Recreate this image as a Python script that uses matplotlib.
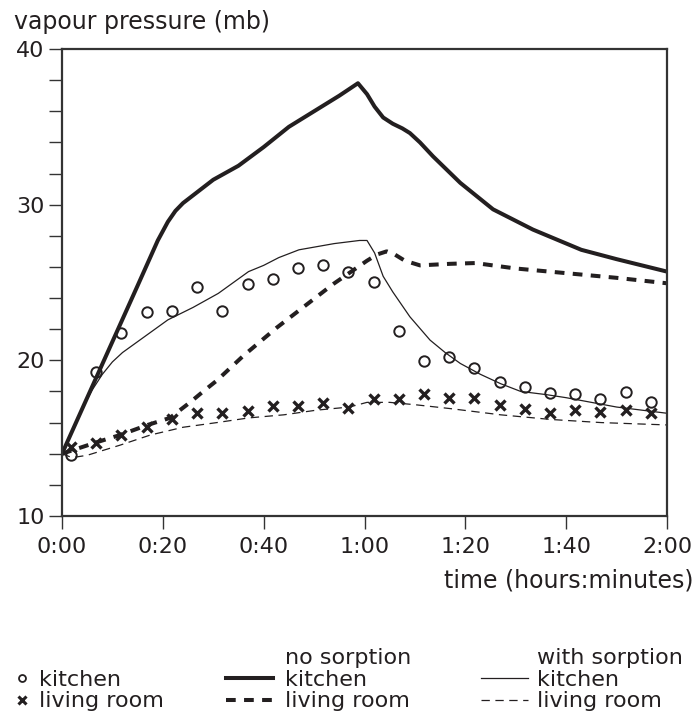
import matplotlib
matplotlib.use("Agg")
import matplotlib.pyplot as plt
from matplotlib.lines import Line2D
from matplotlib.ticker import MultipleLocator, FuncFormatter

plt.rcParams['font.family'] = ['DejaVu Sans']
plt.rcParams['lines.scale_dashes'] = False

INK = '#231f20'

# ---- data (time in minutes, vapour pressure in mb) ----
kit_nosorp_t = [0, 5, 10, 15, 19, 21, 22.5, 24, 26, 28, 30, 35, 40, 45, 50, 55, 58.7,
                60.5, 62, 63.7, 65.6, 67.5, 69, 71, 73.6, 79, 85.5, 93.4, 103, 110, 120]
kit_nosorp_v = [14.0, 17.6, 21.2, 24.8, 27.7, 28.9, 29.6, 30.1, 30.6, 31.1, 31.6, 32.5, 33.7, 35.0, 36.0, 37.0, 37.8,
                37.1, 36.3, 35.6, 35.2, 34.9, 34.6, 34.0, 33.1, 31.4, 29.7, 28.4, 27.1, 26.5, 25.7]

liv_nosorp_t = [0, 7, 11.5, 17, 21.4, 25.4, 28, 30.7, 36, 42.6, 47.8, 53.8, 60.5, 62.5, 64.4,
                66, 68, 71, 77, 82, 90, 100, 110, 120]
liv_nosorp_v = [14.0, 14.75, 15.2, 15.85, 16.3, 17.3, 18.0, 18.7, 20.3, 22.1, 23.4, 24.9, 26.4, 26.8, 27.0,
                26.8, 26.4, 26.1, 26.2, 26.25, 25.9, 25.6, 25.3, 24.95]

kit_sorp_t = [0, 2, 4, 6, 8, 10, 12, 15, 18, 21, 26, 31, 34, 37, 40, 43, 47, 54, 59, 60.5,
              62, 63.7, 65.6, 69, 73, 76, 79, 83, 87, 91, 96, 100, 110, 120]
kit_sorp_v = [14.0, 15.5, 16.9, 18.1, 19.1, 19.9, 20.5, 21.2, 21.9, 22.6, 23.4, 24.3, 25.0, 25.7, 26.1, 26.6, 27.1, 27.5, 27.7, 27.7,
              26.9, 25.4, 24.4, 22.8, 21.3, 20.5, 19.8, 19.1, 18.5, 18.0, 17.8, 17.6, 17.0, 16.6]

liv_sorp_t = [0, 2, 5, 11.5, 17.5, 24, 30.7, 37, 44, 50.5, 57, 60.5, 65, 70, 77, 87, 97, 107, 120]
liv_sorp_v = [14.0, 13.75, 13.9, 14.55, 15.2, 15.7, 16.0, 16.3, 16.5, 16.8, 17.0, 17.3, 17.3, 17.15,
              16.9, 16.5, 16.2, 16.0, 15.85]

meas_t = [1.8, 6.8, 11.8, 16.8, 21.8, 26.8, 31.8, 36.8, 41.8, 46.8, 51.8, 56.8,
          61.8, 66.8, 71.8, 76.8, 81.8, 86.8, 91.8, 96.8, 101.8, 106.8, 111.8, 116.8]
kit_meas_v = [13.9, 19.27, 21.74, 23.08, 23.17, 24.69, 23.19, 24.9, 25.22, 25.95, 26.12, 25.7,
              25.05, 21.88, 19.96, 20.19, 19.48, 18.63, 18.27, 17.92, 17.82, 17.5, 17.95, 17.34]
liv_meas_v = [14.45, 14.71, 15.2, 15.74, 16.21, 16.6, 16.6, 16.77, 17.07, 17.07, 17.24, 16.96,
              17.52, 17.52, 17.84, 17.6, 17.56, 17.13, 16.85, 16.6, 16.81, 16.7, 16.81, 16.64]

x_ticks = [0, 20, 40, 60, 80, 100, 120]
y_ticks = [10, 20, 30, 40]

FS = 16
FS_LAB = 17

fig = plt.figure(figsize=(6.96, 7.13), dpi=100)
ax = fig.add_axes([62/696, 1-516/713, 605/696, 467/713])

thick_lw = 2.9
thin_lw = 0.9
ax.plot(kit_nosorp_t, kit_nosorp_v, color=INK, lw=thick_lw, solid_joinstyle='round')
ax.plot(liv_nosorp_t, liv_nosorp_v, color=INK, lw=thick_lw, linestyle=(0, (7, 6)), dash_capstyle='butt')
ax.plot(kit_sorp_t, kit_sorp_v, color=INK, lw=thin_lw)
ax.plot(liv_sorp_t, liv_sorp_v, color=INK, lw=thin_lw, linestyle=(0, (6, 4)))
ax.plot(meas_t, kit_meas_v, linestyle='none', marker='o', ms=7.5, mfc='none', mec=INK, mew=1.4)
ax.plot(meas_t, liv_meas_v, linestyle='none', marker='x', ms=7.5, mec=INK, mew=2.4)

ax.set_xlim(0, 120)
ax.set_ylim(10, 40)
ax.set_xticks(x_ticks)
ax.xaxis.set_major_formatter(FuncFormatter(lambda v, p: f"{int(v)//60}:{int(v)%60:02d}"))
ax.set_yticks(y_ticks)
ax.yaxis.set_minor_locator(MultipleLocator(2))

for s in ax.spines.values():
    s.set_linewidth(1.6)
    s.set_color('#333333')
ax.tick_params(which='both', direction='out', length=9.4, width=1.0, color='#333333',
               labelsize=FS, labelcolor=INK)
ax.tick_params(axis='y', pad=3)
ax.tick_params(axis='x', pad=6)

ax.set_xlabel("time (hours:minutes)", fontsize=FS_LAB, color=INK, loc='right')
ax.xaxis.set_label_coords((693-62)/605, -0.112)
ax.set_ylabel("vapour pressure (mb)", fontsize=FS_LAB, color=INK, rotation=0,
              ha='left', va='center')
ax.yaxis.set_label_coords((14-62)/605, (516-22)/467)

blank = Line2D([], [], lw=0)
leg_kw = dict(frameon=False, fontsize=FS, borderpad=0, borderaxespad=0, labelspacing=0.07,
              handleheight=0.5, labelcolor=INK, bbox_transform=fig.transFigure, loc='upper left')

h1 = [blank,
      Line2D([], [], linestyle='none', marker='o', ms=5, mfc='none', mec=INK, mew=1.3),
      Line2D([], [], linestyle='none', marker='x', ms=5.5, mec=INK, mew=2.2)]
l1 = ["", "kitchen", "living room"]
leg1 = fig.legend(h1, l1, bbox_to_anchor=(15/696, 1-648/713), handlelength=0.6,
                  handletextpad=0.5, **leg_kw)

h2 = [blank,
      Line2D([], [], color=INK, lw=thick_lw),
      Line2D([], [], color=INK, lw=thick_lw, linestyle=(0, (7, 6)))]
l2 = ["no sorption", "kitchen", "living room"]
leg2 = fig.legend(h2, l2, bbox_to_anchor=(226/696, 1-648/713), handlelength=2.1,
                  handletextpad=0.55, **leg_kw)

h3 = [blank,
      Line2D([], [], color=INK, lw=thin_lw),
      Line2D([], [], color=INK, lw=thin_lw, linestyle=(0, (6, 4)))]
l3 = ["with sorption", "kitchen", "living room"]
leg3 = fig.legend(h3, l3, bbox_to_anchor=(481/696, 1-648/713), handlelength=2.1,
                  handletextpad=0.4, **leg_kw)

fig.savefig("out.png", dpi=100)
